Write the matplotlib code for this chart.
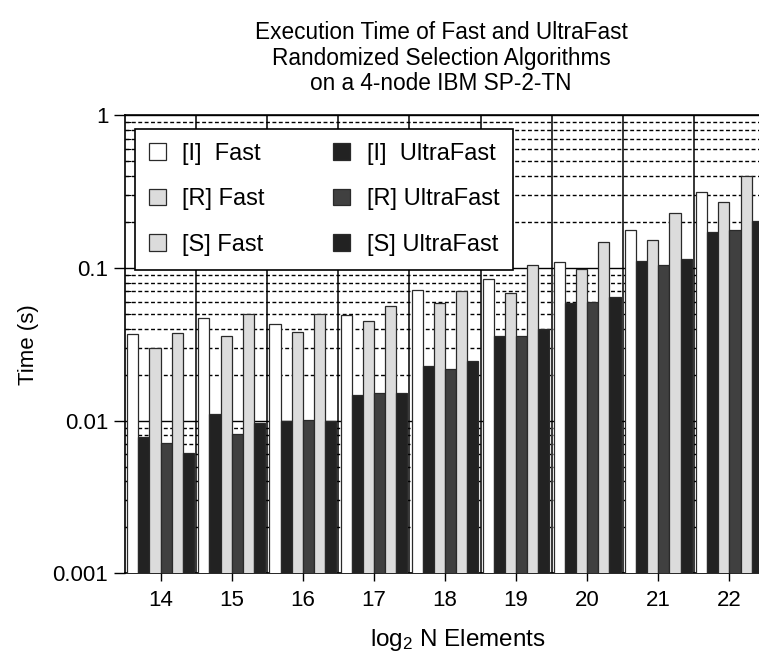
import matplotlib
matplotlib.use("Agg")
import matplotlib.pyplot as plt
import numpy as np
from matplotlib.ticker import LogLocator, NullFormatter, FixedLocator

plt.rcParams['font.family'] = ['Liberation Sans', 'DejaVu Sans']
plt.rcParams['mathtext.fontset'] = 'custom'
plt.rcParams['mathtext.rm'] = 'Liberation Sans'
plt.rcParams['mathtext.it'] = 'Liberation Sans:italic'

# ---- data ----
sizes = [14, 15, 16, 17, 18, 19, 20, 21, 22]
i_fast = [0.037, 0.047, 0.043, 0.049, 0.071, 0.084, 0.109, 0.177, 0.315]
i_ultra = [0.0078, 0.0111, 0.0099, 0.0146, 0.0228, 0.0357, 0.0585, 0.111, 0.171]
r_fast = [0.030, 0.036, 0.038, 0.045, 0.059, 0.068, 0.098, 0.152, 0.270]
r_ultra = [0.0071, 0.0082, 0.0101, 0.0152, 0.0216, 0.0357, 0.0593, 0.104, 0.178]
s_fast = [0.0375, 0.050, 0.050, 0.056, 0.0705, 0.104, 0.147, 0.227, 0.399]
s_ultra = [0.0061, 0.0097, 0.0100, 0.0152, 0.0246, 0.0397, 0.0643, 0.1145, 0.203]

series = [
    ("[I]  Fast", i_fast, "#ffffff"),
    ("[I]  UltraFast", i_ultra, "#222222"),
    ("[R] Fast", r_fast, "#dcdcdc"),
    ("[R] UltraFast", r_ultra, "#404040"),
    ("[S] Fast", s_fast, "#dcdcdc"),
    ("[S] UltraFast", s_ultra, "#222222"),
]
ytick_vals = [0.001, 0.01, 0.1, 1]
ytick_labels = ["0.001", "0.01", "0.1", "1"]

W, H = 759, 662
fig = plt.figure(figsize=(W / 100, H / 100), dpi=100)
ax = fig.add_axes([125 / W, 1 - 573.3 / H, 640 / W, (573.3 - 115) / H])

x = np.arange(len(sizes))
bw = 0.156
handles = {}
for k, (lab, vals, col) in enumerate(series):
    off = (k - 2.5) * bw
    b = ax.bar(x + off, vals, width=bw, color=col, edgecolor="#2a2a2a",
               linewidth=0.9, zorder=3, label=lab)
    handles[lab] = b

ax.set_yscale('log')
ax.set_ylim(0.001, 1)
ax.set_xlim(-0.5, len(sizes) - 0.5)

ax.yaxis.set_major_locator(FixedLocator(ytick_vals))
ax.set_yticklabels(ytick_labels)
ax.yaxis.set_minor_locator(LogLocator(base=10, subs=np.arange(2, 10)))
ax.yaxis.set_minor_formatter(NullFormatter())
ax.tick_params(axis='y', which='major', direction='out', length=8, width=1,
               labelsize=16, pad=4)
ax.tick_params(axis='y', which='minor', direction='in', length=4, width=0.8)
ax.set_xticks(x)
ax.set_xticklabels([str(s) for s in sizes])
ax.tick_params(axis='x', which='major', direction='out', length=6, width=1,
               labelsize=16, pad=6)

# grid
ax.set_axisbelow(True)
ax.grid(which='minor', axis='y', color='black', linestyle=(0, (2.8, 1.8)),
        linewidth=1.0, zorder=0.5)
ax.grid(which='major', axis='y', color='black', linestyle='-',
        linewidth=1.0, zorder=0.5)
for g in range(len(sizes) - 1):
    ax.axvline(g + 0.5, color='black', linewidth=1.1, zorder=0.6)

for sp in ax.spines.values():
    sp.set_linewidth(1.2)
    sp.set_color('black')

ax.set_ylabel("Time (s)", fontsize=16, labelpad=10)

order = ["[I]  Fast", "[R] Fast", "[S] Fast",
         "[I]  UltraFast", "[R] UltraFast", "[S] UltraFast"]
leg = ax.legend([handles[o] for o in order], order, ncol=2,
                loc='upper left', bbox_to_anchor=(135 / W, 1 - 129 / H),
                bbox_transform=fig.transFigure, borderaxespad=0,
                fontsize=17, handlelength=0.72, handleheight=0.72,
                handletextpad=0.7, columnspacing=2.9, labelspacing=1.0,
                borderpad=0.58, fancybox=False, framealpha=1, shadow=False)
leg.get_frame().set_edgecolor('black')
leg.get_frame().set_linewidth(1.2)
leg.set_zorder(10)

fig.text(441 / W, 1 - 21 / H,
         "Execution Time of Fast and UltraFast\nRandomized Selection Algorithms\non a 4-node IBM SP-2-TN",
         ha='center', va='top', fontsize=16.3, linespacing=1.15)
fig.text(458 / W, 1 - 640 / H, r"log$_2$ N Elements", ha='center',
         va='center', fontsize=17.5)

fig.savefig("out.png", dpi=100)
